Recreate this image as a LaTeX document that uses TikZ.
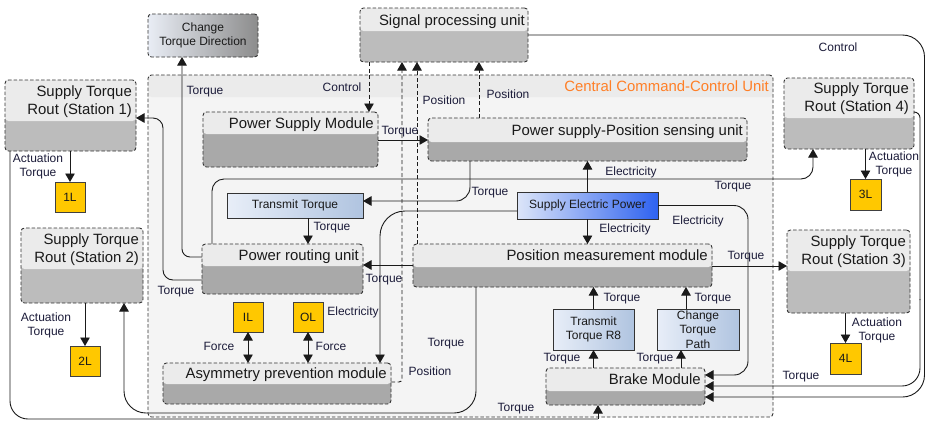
\documentclass[tikz,border=0pt]{standalone}
\usepackage{fontspec}
\setmainfont{Liberation Sans}
\usetikzlibrary{arrows.meta,calc}
\definecolor{hdr}{HTML}{EBEBEB}
\definecolor{bodyA}{HTML}{BCBCBC}
\definecolor{bodyB}{HTML}{A9A9A9}
\definecolor{ccubg}{HTML}{F4F4F4}
\definecolor{yel}{HTML}{FFC800}
\definecolor{orng}{HTML}{FF7F27}
\definecolor{bl1}{HTML}{E8EEF8}
\definecolor{bl2}{HTML}{B0C4E0}
\definecolor{sep1}{HTML}{DCE5F8}
\definecolor{sep2}{HTML}{2E62F0}
\definecolor{ctd1}{HTML}{E9EDF5}
\definecolor{ctd2}{HTML}{8C8C8C}
\definecolor{txt}{HTML}{1A1A1A}
\definecolor{lblc}{HTML}{1C1C3A}
\definecolor{ln}{HTML}{1A1A1A}
\newcommand\myfmod{\fontsize{14.9}{18}\selectfont}
\newcommand\myfsml{\fontsize{12}{14}\selectfont}
\newcommand\myfblu{\fontsize{12}{14.5}\selectfont}
\tikzset{
  mod/.style={draw=black!80, line width=0.9pt, dash pattern=on 3.5pt off 2pt, rounded corners=3.5pt, inner sep=0pt, outer sep=0pt, anchor=north west},
  modtxt/.style={anchor=east, inner sep=0pt, font=\myfmod, text=txt, text height=11pt, text depth=3pt},
  stxt/.style={anchor=east, inner sep=0pt, font=\myfmod, text=txt, align=right},
  bluebox/.style={draw=black!80, line width=0.8pt, inner sep=0pt, outer sep=0pt, anchor=north west, left color=bl1, right color=bl2, font=\myfblu, text=txt, align=center},
  ybox/.style={draw=black!75, line width=0.8pt, fill=yel, inner sep=0pt, outer sep=0pt, anchor=north west, minimum width=30pt, minimum height=30pt, font=\myfsml, text=txt},
  conn/.style={draw=ln, line width=0.9pt},
  dconn/.style={conn, dash pattern=on 4pt off 2.5pt},
  arr/.style={-{Triangle[length=8.5pt,width=9.5pt]}},
  darr/.style={{Triangle[length=8.5pt,width=9.5pt]}-{Triangle[length=8.5pt,width=9.5pt]}},
  lbl/.style={inner sep=0pt, font=\myfsml, text=lblc, align=center},
}
\newcommand\modbox[7]{\node[mod, fill=#7, minimum width=#4pt, minimum height=#5pt, path picture={\fill[hdr] (path picture bounding box.north west) rectangle ([yshift=-#6pt]path picture bounding box.north east);}] (#1) at (#2,#3) {};}
\begin{document}
\begin{tikzpicture}[x=1pt,y=-1pt]
\useasboundingbox (0,0) rectangle (925,421);
\fill[white] (0,0) rectangle (925,421);

% container
\modbox{ccu}{148}{75}{625}{342}{22}{ccubg}
\node[modtxt, text=orng] (ccut) at (769,87) {Central Command-Control Unit};

% outside modules
\modbox{spu}{360}{8}{168}{54}{23}{bodyA}
\node[modtxt] (spu-t) at (525,21) {Signal processing unit};
\modbox{st1}{5}{80}{131}{71}{41}{bodyA}
\node[stxt] (st1-t) at (132,102) {Supply Torque\\Rout (Station 1)};
\modbox{st2}{21}{228}{122}{75}{41}{bodyA}
\node[stxt] (st2-t) at (139,250) {Supply Torque\\Rout (Station 2)};
\modbox{st4}{784}{78}{130}{71}{40}{bodyA}
\node[stxt] (st4-t) at (909,99) {Supply Torque\\Rout (Station 4)};
\modbox{st3}{787}{230}{123}{83}{41}{bodyA}
\node[stxt] (st3-t) at (906,252) {Supply Torque\\Rout (Station 3)};

\node[mod, left color=ctd1, right color=ctd2, minimum width=110pt, minimum height=43pt, align=center, font=\myfblu, text=txt] (ctd) at (148,14) {Change\\Torque Direction};

% inside modules
\modbox{psm}{203}{112}{175}{55}{22}{bodyB}
\node[modtxt] (psm-t) at (374,124) {Power Supply Module};
\modbox{pps}{428}{118}{319}{43}{24}{bodyB}
\node[modtxt] (pps-t) at (743,131) {Power supply-Position sensing unit};
\modbox{pru}{202}{244}{161}{50}{22}{bodyB}
\node[modtxt] (pru-t) at (359,256) {Power routing unit};
\modbox{pmm}{413}{244}{299}{43}{23}{bodyB}
\node[modtxt] (pmm-t) at (708,256) {Position measurement module};
\modbox{apm}{163}{363}{228}{41}{21}{bodyB}
\node[modtxt] (apm-t) at (387,374) {Asymmetry prevention module};
\modbox{brk}{546}{368}{159}{37}{23}{bodyB}
\node[modtxt] (brk-t) at (701,380) {Brake Module};

\node[bluebox, minimum width=136pt, minimum height=25pt] (tt) at (227,193) {Transmit Torque};
\node[bluebox, left color=sep1, right color=sep2, minimum width=141pt, minimum height=27pt] (sep) at (517,192) {Supply Electric Power};
\node[bluebox, minimum width=81pt, minimum height=41pt] (ttr8) at (553,309) {Transmit\\Torque R8};
\node[bluebox, minimum width=82pt, minimum height=41pt] (ctp) at (657,309) {Change\\Torque\\Path};

\node[ybox] (y1) at (55,182) {1L};
\node[ybox] (y2) at (70,346) {2L};
\node[ybox, minimum width=31pt, minimum height=31pt] (y3) at (850,179) {3L};
\node[ybox, minimum width=31pt, minimum height=31pt] (y4) at (830,343) {4L};
\node[ybox] (il) at (233,302) {IL};
\node[ybox] (ol) at (293,302) {OL};

% connectors
\draw[conn, rounded corners=8pt, arr] (pru.west |- 0,257) -| (182,0 |- ctd.south);
\draw[conn, rounded corners=10pt, arr] (pru.west |- 0,280) -- (163,280) -- (163,118) -- (st1.east |- 0,118);
\draw[conn, rounded corners=12pt, arr] (212,0 |- pru.north) -- (212,179) -- (813,179) -- (813,0 |- st4.south);
\draw[conn, rounded corners=14pt, arr] (470,0 |- pps.south) -- (470,201) -- (tt.east |- 0,201);
\draw[conn, arr] (sep.north) -- (sep.north |- pps.south);
\draw[conn, arr] (sep.south) -- (sep.south |- pmm.north);
\draw[conn, rounded corners=14pt, arr] (sep.east) -- (748,0 |- sep.east) -- (748,375) -- (brk.east |- 0,375);
\draw[conn, rounded corners=25pt, arr] (sep.west |- 0,211) -- (380,211) -- (380,0 |- apm.north);
\draw[conn, arr] (psm.east |- 0,140) -- (pps.west |- 0,140);
\draw[dconn, arr] (369,0 |- spu.south) -- (369,0 |- psm.north);
\draw[dconn, rounded corners=3pt, arr] (apm.east |- 0,382) -- (402,382) -- (402,0 |- spu.south);
\draw[dconn, arr] (417,0 |- pmm.north) -- (417,0 |- spu.south);
\draw[dconn, arr] (479,0 |- pps.north) -- (479,0 |- spu.south);
\draw[conn, rounded corners=22pt, arr] (spu.east |- 0,35) -- (924.5,35) -- (924.5,397) -- (brk.east |- 0,397);
\draw[conn, rounded corners=6pt] (st4.east |- 0,112) -- (920,112) -- (920,300);
\draw[conn, rounded corners=18pt, arr] (920,299) -- (920,386) -- (brk.east |- 0,386);
\draw[conn, arr] (pmm.west |- 0,265) -- (pru.east |- 0,265);
\draw[conn, arr] (308,0 |- tt.south) -- (308,0 |- pru.north);
\draw[conn, arr] (pmm.east |- 0,266) -- (st3.west |- 0,266);
\draw[conn, rounded corners=22pt, arr] (476,0 |- pmm.south) -- (476,413) -- (124,413) -- (124,0 |- st2.south);
\draw[conn, rounded corners=18pt] (10,0 |- st1.south) -- (10,419) -- (598,419);
\draw[conn, arr] (598,419) -- (598,0 |- brk.south);
\draw[conn, arr] (y1.north |- st1.south) -- (y1.north);
\draw[conn, arr] (y2.north |- st2.south) -- (y2.north);
\draw[conn, arr] (y3.north |- st4.south) -- (y3.north);
\draw[conn, arr] (y4.north |- st3.south) -- (y4.north);
\draw[conn, darr] (il.south) -- (il.south |- apm.north);
\draw[conn, darr] (ol.south) -- (ol.south |- apm.north);
\draw[conn, arr] (ttr8.south |- brk.north) -- (ttr8.south);
\draw[conn, arr] (ttr8.north) -- (ttr8.north |- pmm.south);
\draw[conn, arr] (681,0 |- brk.north) -- (681,0 |- ctp.south);
\draw[conn, arr] (686,0 |- ctp.north) -- (686,0 |- pmm.south);

% labels
\node[lbl] (l1) at (205,92) {Torque};
\node[lbl] (l2) at (342,87) {Control};
\node[lbl] (l3) at (444,100) {Position};
\node[lbl] (l4) at (508,94) {Position};
\node[lbl] (l5) at (400,132) {Torque};
\node[lbl] (l6) at (490,193) {Torque};
\node[lbl] (l7) at (631,172) {Electricity};
\node[lbl] (l8) at (733,187) {Torque};
\node[lbl] (l9) at (332,228) {Torque};
\node[lbl] (l10) at (625,229) {Electricity};
\node[lbl] (l11) at (698,221) {Electricity};
\node[lbl] (l12) at (176,292) {Torque};
\node[lbl] (l13) at (384,280) {Torque};
\node[lbl] (l14) at (746,257) {Torque};
\node[lbl] (l15) at (353,312) {Electricity};
\node[lbl] (l16) at (219,346) {Force};
\node[lbl] (l17) at (331,346) {Force};
\node[lbl] (l18) at (622,299) {Torque};
\node[lbl] (l19) at (713,299) {Torque};
\node[lbl] (l20) at (446,344) {Torque};
\node[lbl] (l21) at (562,359) {Torque};
\node[lbl] (l22) at (655,359) {Torque};
\node[lbl] (l23) at (430,371) {Position};
\node[lbl] (l24) at (801,377) {Torque};
\node[lbl] (l25) at (516,409) {Torque};
\node[lbl] (l26) at (838,47) {Control};
\node[lbl] (a1) at (38,166) {Actuation\\Torque};
\node[lbl] (a2) at (46,325) {Actuation\\Torque};
\node[lbl] (a4) at (894,164) {Actuation\\Torque};
\node[lbl] (a3) at (877,330) {Actuation\\Torque};
\end{tikzpicture}
\end{document}
